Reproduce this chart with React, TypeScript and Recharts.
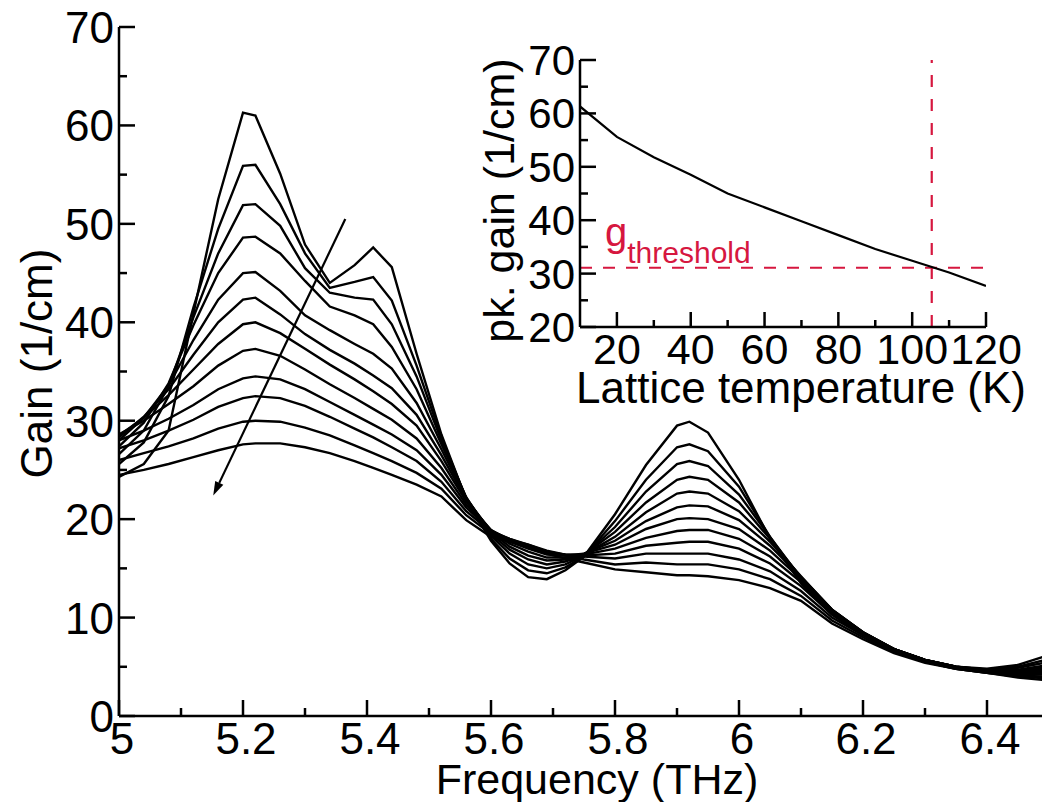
import React from "react";
import { LineChart, Line, XAxis, YAxis, ReferenceLine, Label } from "recharts";

// ---------------------------------------------------------------------------
// Main plot data: gain spectra for lattice temperatures 10 K ... 120 K
// ---------------------------------------------------------------------------
const FREQ = [
  5.0, 5.04, 5.08, 5.12, 5.16, 5.2, 5.22, 5.26, 5.3, 5.34, 5.38, 5.41, 5.44, 5.48,
  5.52, 5.56, 5.6, 5.63, 5.66, 5.69, 5.72, 5.75, 5.8, 5.85, 5.9, 5.92, 5.95, 6.0,
  6.05, 6.1, 6.15, 6.2, 6.25, 6.3, 6.35, 6.4, 6.45, 6.5,
];

const GAIN_10K = [24.3, 25.6, 29.0, 40.9, 52.5, 61.3, 61.0, 55.1, 47.9, 44.0, 45.8, 47.6, 45.6, 36.8, 28.6, 22.0, 17.8, 15.5, 14.1, 13.9, 14.8, 16.2, 20.5, 25.5, 29.5, 29.9, 28.8, 24.0, 18.0, 13.5, 10.3, 8.2, 6.8, 5.7, 5.0, 4.8, 5.2, 6.2];
const GAIN_20K = [25.6, 27.8, 32.5, 41.5, 49.5, 55.9, 56.0, 52.0, 47.0, 43.5, 44.1, 44.6, 42.2, 35.6, 28.3, 22.1, 18.0, 16.0, 14.8, 14.5, 15.1, 16.2, 19.8, 24.0, 27.3, 27.6, 26.9, 23.3, 18.2, 13.8, 10.5, 8.3, 6.8, 5.7, 5.0, 4.7, 5.0, 5.8];
const GAIN_30K = [26.6, 29.0, 33.5, 40.5, 47.0, 51.9, 52.0, 49.8, 45.5, 43.0, 42.5, 42.3, 39.8, 34.5, 28.0, 22.2, 18.3, 16.5, 15.4, 15.0, 15.4, 16.3, 19.2, 22.8, 25.6, 25.9, 25.4, 22.5, 18.2, 14.0, 10.7, 8.4, 6.8, 5.7, 5.0, 4.7, 4.9, 5.5];
const GAIN_40K = [27.4, 29.8, 33.8, 39.7, 45.0, 48.6, 48.7, 47.0, 44.2, 41.6, 40.7, 39.8, 37.5, 33.2, 27.6, 22.2, 18.5, 16.9, 15.9, 15.4, 15.7, 16.4, 18.7, 21.7, 24.0, 24.3, 24.0, 21.7, 18.0, 14.1, 10.8, 8.5, 6.8, 5.7, 5.0, 4.6, 4.7, 5.2];
const GAIN_50K = [28.0, 30.3, 33.6, 38.2, 42.3, 45.0, 45.1, 43.2, 40.7, 39.2, 37.8, 36.8, 35.3, 31.8, 27.1, 22.1, 18.7, 17.2, 16.3, 15.8, 15.9, 16.4, 18.2, 20.7, 22.6, 22.8, 22.6, 20.8, 17.7, 14.2, 10.8, 8.5, 6.8, 5.7, 5.0, 4.6, 4.6, 5.0];
const GAIN_60K = [28.3, 30.4, 33.2, 36.7, 40.0, 42.3, 42.5, 40.8, 38.8, 37.2, 35.8, 34.6, 33.3, 30.6, 26.5, 22.0, 18.8, 17.5, 16.7, 16.1, 16.1, 16.5, 17.8, 19.8, 21.2, 21.4, 21.3, 19.9, 17.3, 14.1, 10.8, 8.5, 6.8, 5.7, 4.9, 4.6, 4.5, 4.8];
const GAIN_70K = [28.5, 30.3, 32.6, 35.2, 37.8, 39.8, 40.0, 38.9, 37.3, 35.7, 34.2, 33.0, 31.7, 29.5, 25.9, 21.8, 18.9, 17.7, 17.0, 16.4, 16.3, 16.5, 17.4, 19.0, 20.0, 20.1, 20.0, 19.0, 16.8, 13.9, 10.7, 8.5, 6.8, 5.6, 4.9, 4.5, 4.4, 4.6];
const GAIN_80K = [28.6, 30.0, 31.7, 33.5, 35.6, 37.1, 37.3, 36.6, 35.2, 33.7, 32.3, 31.2, 30.1, 28.2, 25.2, 21.5, 18.9, 17.9, 17.2, 16.6, 16.4, 16.4, 17.0, 18.1, 18.8, 18.9, 18.9, 18.0, 16.2, 13.6, 10.5, 8.4, 6.7, 5.6, 4.9, 4.5, 4.3, 4.4];
const GAIN_90K = [28.0, 29.0, 30.2, 31.6, 33.2, 34.3, 34.5, 34.2, 33.2, 31.9, 30.6, 29.6, 28.6, 27.0, 24.5, 21.2, 18.8, 18.0, 17.3, 16.7, 16.4, 16.3, 16.5, 17.3, 17.6, 17.7, 17.7, 17.0, 15.5, 13.2, 10.3, 8.3, 6.7, 5.6, 4.9, 4.5, 4.2, 4.2];
const GAIN_100K = [27.2, 28.0, 29.0, 30.1, 31.4, 32.3, 32.5, 32.3, 31.5, 30.4, 29.2, 28.3, 27.3, 25.9, 23.8, 20.8, 18.7, 18.0, 17.4, 16.8, 16.4, 16.2, 16.0, 16.5, 16.5, 16.5, 16.5, 15.9, 14.7, 12.7, 10.0, 8.2, 6.6, 5.5, 4.8, 4.4, 4.1, 4.0];
const GAIN_110K = [26.0, 26.7, 27.4, 28.2, 29.2, 29.9, 30.0, 29.9, 29.3, 28.5, 27.5, 26.7, 25.9, 24.7, 23.1, 20.4, 18.5, 17.9, 17.4, 16.7, 16.3, 15.9, 15.4, 15.6, 15.4, 15.4, 15.4, 14.9, 13.9, 12.2, 9.7, 8.0, 6.5, 5.5, 4.8, 4.4, 4.0, 3.8];
const GAIN_120K = [24.5, 25.0, 25.6, 26.3, 27.0, 27.6, 27.7, 27.7, 27.3, 26.7, 25.9, 25.2, 24.5, 23.5, 22.3, 19.9, 18.2, 17.7, 17.2, 16.5, 16.0, 15.6, 14.9, 14.6, 14.3, 14.3, 14.2, 13.8, 13.0, 11.7, 9.4, 7.8, 6.4, 5.4, 4.8, 4.4, 3.9, 3.6];

const SPECTRA = [
  GAIN_10K, GAIN_20K, GAIN_30K, GAIN_40K, GAIN_50K, GAIN_60K,
  GAIN_70K, GAIN_80K, GAIN_90K, GAIN_100K, GAIN_110K, GAIN_120K,
];

const X_MAJOR = [5, 5.2, 5.4, 5.6, 5.8, 6, 6.2, 6.4];
const X_MINOR = [5.1, 5.3, 5.5, 5.7, 5.9, 6.1, 6.3, 6.5];
const Y_MAJOR = [0, 10, 20, 30, 40, 50, 60, 70];
const Y_MINOR = [5, 15, 25, 35, 45, 55, 65];

// arrow annotation (start -> tip), in data units
const ARROW = [
  { x: 5.365, y: 50.5 },
  { x: 5.152, y: 22.4 },
];

// ---------------------------------------------------------------------------
// Inset data: peak gain vs lattice temperature
// ---------------------------------------------------------------------------
const TEMPS = [10, 20, 30, 40, 50, 60, 70, 80, 90, 100, 110, 120];
const PEAK_GAIN = [61.3, 55.6, 51.8, 48.5, 45.0, 42.4, 39.8, 37.2, 34.6, 32.4, 30.2, 27.7];
const T_MAJOR = [20, 40, 60, 80, 100, 120];
const T_MINOR = [30, 50, 70, 90, 110];
const G_MAJOR = [20, 30, 40, 50, 60, 70];
const G_MINOR = [25, 35, 45, 55, 65];
const T_THRESHOLD = 105.3;
const G_THRESHOLD = 31.1;

const FONT = "'Liberation Sans', Arial, Helvetica, sans-serif";
const RED = "#d6173f";
const AXIS_W = 2.5;

const sortNum = (a: number[], b: number[]) => [...a, ...b].sort((p, q) => p - q);

const mainData = FREQ.map((f, i) => {
  const row: Record<string, number> = { f };
  SPECTRA.forEach((s, k) => {
    row["g" + k] = s[i];
  });
  return row;
});

const insetData = TEMPS.map((t, i) => ({ t, g: PEAK_GAIN[i] }));

// ---------------------------------------------------------------------------
// tick renderers (inward ticks, labels only on majors)
// ---------------------------------------------------------------------------
type TickOpts = {
  majors: number[];
  side: "bottom" | "top" | "left" | "right";
  major: number;
  minor: number;
  fontSize?: number;
  labelGap?: number;
  labelDx?: number;
  baseline?: number;
};

function makeTick(o: TickOpts) {
  return (props: any) => {
    const { x, y, payload } = props;
    const v = payload.value as number;
    const isMajor = o.majors.some((m) => Math.abs(m - v) < 1e-6);
    const len = isMajor ? o.major : o.minor;
    let line;
    if (o.side === "bottom") line = <line x1={x} y1={y} x2={x} y2={y - len} />;
    else if (o.side === "top") line = <line x1={x} y1={y} x2={x} y2={y + len} />;
    else if (o.side === "left") line = <line x1={x} y1={y} x2={x + len} y2={y} />;
    else line = <line x1={x} y1={y} x2={x - len} y2={y} />;
    let label = null;
    if (isMajor && o.fontSize) {
      if (o.side === "bottom") {
        label = (
          <text x={x + (o.labelDx || 0)} y={y + (o.baseline || 0)} textAnchor="middle"
            fontSize={o.fontSize} fontFamily={FONT} fill="#000" stroke="none">
            {String(v)}
          </text>
        );
      } else if (o.side === "left") {
        label = (
          <text x={x - (o.labelGap || 0)} y={y + (o.baseline || 0)} textAnchor="end"
            fontSize={o.fontSize} fontFamily={FONT} fill="#000" stroke="none">
            {String(v)}
          </text>
        );
      }
    }
    return (
      <g stroke="#000" strokeWidth={AXIS_W}>
        {line}
        {label}
      </g>
    );
  };
}

const ArrowShape = (props: any) => {
  const { x1, y1, x2, y2 } = props;
  const ang = Math.atan2(y2 - y1, x2 - x1);
  const L = 14;
  const W = 4.5;
  const bx = x2 - L * Math.cos(ang);
  const by = y2 - L * Math.sin(ang);
  const px = -Math.sin(ang) * W;
  const py = Math.cos(ang) * W;
  return (
    <g>
      <line x1={x1} y1={y1} x2={bx} y2={by} stroke="#000" strokeWidth={2.2} />
      <polygon points={`${x2},${y2} ${bx + px},${by + py} ${bx - px},${by - py}`} fill="#000" />
    </g>
  );
};

function MainChart() {
  const axisLine = { stroke: "#000", strokeWidth: AXIS_W };
  return (
    <LineChart width={1070} height={802} data={mainData}
      margin={{ top: 27, right: 21, bottom: 26, left: 59 }}>
      <XAxis xAxisId="b" dataKey="f" type="number" domain={[5, 6.5]} allowDataOverflow
        ticks={sortNum(X_MAJOR, X_MINOR)} interval={0} height={60}
        tickSize={0} tickMargin={0} tickLine={false} axisLine={axisLine}
        tick={makeTick({ majors: X_MAJOR, side: "bottom", major: 16, minor: 8, fontSize: 44, baseline: 38, labelDx: 3 })}>
        <Label content={(p: any) => (
          <text x={p.viewBox.x + p.viewBox.width / 2 + 13} y={p.viewBox.y + 78} textAnchor="middle"
            fontSize={43} fontFamily={FONT} fill="#000">
            Frequency (THz)
          </text>
        )} />
      </XAxis>
      <XAxis xAxisId="t" orientation="top" dataKey="f" type="number" domain={[5, 6.5]} allowDataOverflow
        ticks={sortNum(X_MAJOR, X_MINOR)} interval={0} height={0}
        tickSize={0} tickMargin={0} tickLine={false} axisLine={axisLine}
        tick={makeTick({ majors: X_MAJOR, side: "top", major: 16, minor: 8 })} />
      <YAxis yAxisId="l" type="number" domain={[0, 70]} allowDataOverflow
        ticks={sortNum(Y_MAJOR, Y_MINOR)} interval={0} width={60}
        tickSize={0} tickMargin={0} tickLine={false} axisLine={axisLine}
        tick={makeTick({ majors: Y_MAJOR, side: "left", major: 16, minor: 8, fontSize: 44, baseline: 16, labelGap: 5 })}>
        <Label content={(p: any) => (
          <text transform={`translate(52, ${p.viewBox.y + p.viewBox.height / 2 - 8}) rotate(-90)`}
            textAnchor="middle" fontSize={44} fontFamily={FONT} fill="#000">
            Gain (1/cm)
          </text>
        )} />
      </YAxis>
      <YAxis yAxisId="r" orientation="right" type="number" domain={[0, 70]} allowDataOverflow
        ticks={sortNum(Y_MAJOR, Y_MINOR)} interval={0} width={0}
        tickSize={0} tickMargin={0} tickLine={false} axisLine={axisLine}
        tick={makeTick({ majors: Y_MAJOR, side: "right", major: 16, minor: 8 })} />
      {SPECTRA.map((_, k) => (
        <Line key={k} xAxisId="b" yAxisId="l" type="linear" dataKey={"g" + k}
          stroke="#000" strokeWidth={2.4} dot={false} activeDot={false}
          isAnimationActive={false} />
      ))}
      <ReferenceLine xAxisId="b" yAxisId="l" segment={ARROW} shape={ArrowShape} ifOverflow="visible" />
    </LineChart>
  );
}

function InsetChart() {
  const axisLine = { stroke: "#000", strokeWidth: AXIS_W };
  return (
    <LineChart width={1042} height={420} data={insetData}
      margin={{ top: 60, right: 56, bottom: 33, left: 520 }}>
      <XAxis xAxisId="b" dataKey="t" type="number" domain={[10, 120]} allowDataOverflow
        ticks={sortNum(T_MAJOR, T_MINOR)} interval={0} height={60}
        tickSize={0} tickMargin={0} tickLine={false} axisLine={axisLine}
        tick={makeTick({ majors: T_MAJOR, side: "bottom", major: 15, minor: 7, fontSize: 43, baseline: 37 })}>
        <Label content={(p: any) => (
          <text x={p.viewBox.x + p.viewBox.width / 2 + 18} y={p.viewBox.y + 76} textAnchor="middle"
            fontSize={44} fontFamily={FONT} fill="#000">
            Lattice temperature (K)
          </text>
        )} />
      </XAxis>
      <XAxis xAxisId="t" orientation="top" dataKey="t" type="number" domain={[10, 120]} allowDataOverflow
        ticks={sortNum(T_MAJOR, T_MINOR)} interval={0} height={0}
        tickSize={0} tickMargin={0} tickLine={false} axisLine={axisLine}
        tick={makeTick({ majors: T_MAJOR, side: "top", major: 15, minor: 7 })} />
      <YAxis yAxisId="l" type="number" domain={[20, 70]} allowDataOverflow
        ticks={sortNum(G_MAJOR, G_MINOR)} interval={0} width={60}
        tickSize={0} tickMargin={0} tickLine={false} axisLine={axisLine}
        tick={makeTick({ majors: G_MAJOR, side: "left", major: 16, minor: 8, fontSize: 42, baseline: 15, labelGap: 5 })}>
        <Label content={(p: any) => (
          <text transform={`translate(514, ${p.viewBox.y + p.viewBox.height / 2 + 7}) rotate(-90)`}
            textAnchor="middle" fontSize={43} fontFamily={FONT} fill="#000">
            pk. gain (1/cm)
          </text>
        )} />
      </YAxis>
      <YAxis yAxisId="r" orientation="right" type="number" domain={[20, 70]} allowDataOverflow
        ticks={sortNum(G_MAJOR, G_MINOR)} interval={0} width={0}
        tickSize={0} tickMargin={0} tickLine={false} axisLine={axisLine}
        tick={makeTick({ majors: G_MAJOR, side: "right", major: 16, minor: 8 })} />
      <ReferenceLine xAxisId="b" yAxisId="l" x={T_THRESHOLD} stroke={RED} strokeWidth={2.2} strokeDasharray="12 12" />
      <ReferenceLine xAxisId="b" yAxisId="l" y={G_THRESHOLD} stroke={RED} strokeWidth={2.2} strokeDasharray="12 11">
        <Label content={(p: any) => (
          <text x={p.viewBox.x + 25} y={p.viewBox.y - 22} fill={RED} fontFamily={FONT}>
            <tspan fontSize={40}>g</tspan>
            <tspan fontSize={30} dy={17}>threshold</tspan>
          </text>
        )} />
      </ReferenceLine>
      <Line xAxisId="b" yAxisId="l" type="linear" dataKey="g" stroke="#000" strokeWidth={2.2}
        dot={false} activeDot={false} isAnimationActive={false} />
    </LineChart>
  );
}

export default function App() {
  return (
    <div style={{ position: "fixed", left: 0, top: 0, width: 1042, height: 802, overflow: "hidden", background: "#fff" }}>
      <div style={{ position: "absolute", left: 0, top: 0 }}>
        <MainChart />
      </div>
      <div style={{ position: "absolute", left: 0, top: 0 }}>
        <InsetChart />
      </div>
    </div>
  );
}
